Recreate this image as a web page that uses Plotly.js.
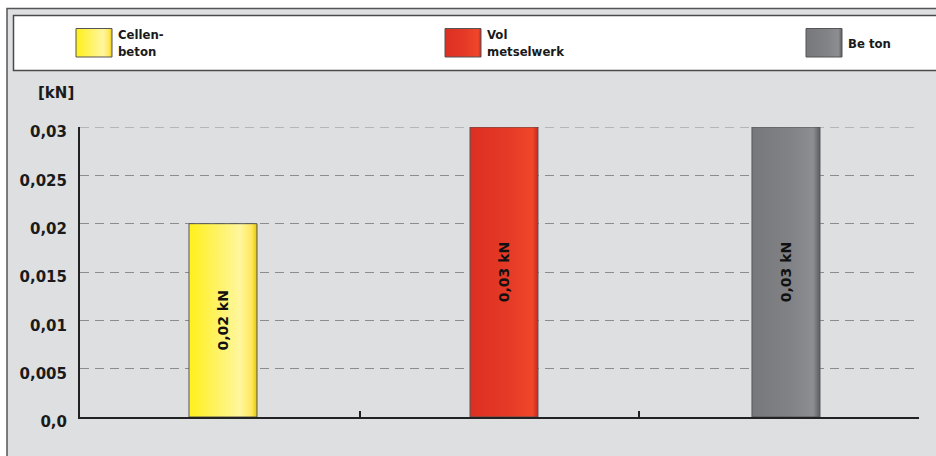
<!DOCTYPE html>
<html>
<head>
<meta charset="utf-8">
<script src="https://cdn.plot.ly/plotly-3.0.1.min.js"></script>
<style>
  html, body { margin: 0; padding: 0; background: #ffffff; }
  #chart { width: 936px; height: 456px; }
</style>
</head>
<body>
<div id="chart"></div>
<script>
// ---- data ----
const categories = ["Cellenbeton", "Vol metselwerk", "Beton"];
const legendLabels = ["Cellen-<br>beton", "Vol<br>metselwerk", "Be ton"];
const values = [0.02, 0.03, 0.03];
const barLabels = ["0,02 kN", "0,03 kN", "0,03 kN"];
const yTickVals = [0, 0.005, 0.01, 0.015, 0.02, 0.025, 0.03];
const yTickText = ["0,0", "0,005", "0,01", "0,015", "0,02", "0,025", "0,03"];
const yUnit = "[kN]";

// ---- styles ----
const baseColors = ["#fff13a", "#e2372a", "#7f8084"];
const barOffsets = [-0.1103, -0.1055, -0.0972];
const gradStops = [
  [["0%", "#fff01a"], ["45%", "#fff36a"], ["75%", "#fff69e"], ["92%", "#ffe85e"], ["100%", "#e9c800"]],
  [["0%", "#dc2f23"], ["60%", "#e63b27"], ["92%", "#f0472a"], ["100%", "#c62820"]],
  [["0%", "#77787c"], ["60%", "#828387"], ["90%", "#8d8e91"], ["100%", "#5c5d60"]]
];

const W = 936, H = 456;
const M = { l: 80, r: 17, t: 127, b: 39 };
const pw = W - M.l - M.r, ph = H - M.t - M.b;
const px = v => (v - M.l) / pw;
const py = v => (H - M.b - v) / ph;

const tickFont = { family: "DejaVu Sans", size: 15, color: "#1a1a1a", weight: "bold" };
const legFont = { family: "Liberation Sans Narrow, DejaVu Sans Condensed, sans-serif", size: 13, color: "#1a1a1a", weight: "bold" };

const trace = {
  type: "bar",
  x: categories,
  y: values,
  text: barLabels,
  textposition: "inside",
  insidetextanchor: "middle",
  textangle: -90,
  texttemplate: "%{text}",
  textfont: { family: "DejaVu Sans", size: 14, color: "#111111", weight: "bold" },
  constraintext: "none",
  width: 0.2431,
  offset: barOffsets,
  marker: { color: baseColors, line: { color: "#555555", width: 1 } },
  hoverinfo: "skip",
  showlegend: false
};

const shapes = [];
const annotations = [];
// outer frame (background panel)
shapes.push({ type: "rect", xref: "paper", yref: "paper", layer: "below",
  x0: px(7), x1: px(945), y0: py(8.5), y1: py(470),
  fillcolor: "#dedfe1", line: { color: "#555555", width: 1.5 } });
// legend box
shapes.push({ type: "rect", xref: "paper", yref: "paper", layer: "below",
  x0: px(13.5), x1: px(950), y0: py(15.5), y1: py(70.5),
  fillcolor: "#ffffff", line: { color: "#4a4a4a", width: 1.5 } });
// top gridline (Plotly drops the gridline on the range edge)
shapes.push({ type: "line", xref: "paper", yref: "y", layer: "below",
  x0: 0, x1: px(915), y0: yTickVals[yTickVals.length - 1], y1: yTickVals[yTickVals.length - 1],
  line: { color: "#8c8c8c", width: 1, dash: "9px,6px" } });
const legX = [76, 445, 806];
categories.forEach((c, i) => {
  shapes.push({ type: "rect", xref: "paper", yref: "paper", layer: "above",
    x0: px(legX[i]), x1: px(legX[i] + 36), y0: py(28.5), y1: py(57),
    fillcolor: baseColors[i], line: { color: "#555555", width: 1 } });
  annotations.push({ xref: "paper", yref: "paper", x: px(legX[i] + 40), y: py(43),
    xanchor: "left", yanchor: "middle", align: "left", showarrow: false,
    text: legendLabels[i], font: legFont });
});
annotations.push({ xref: "paper", yref: "paper", x: px(56), y: py(93),
  xanchor: "center", yanchor: "middle", showarrow: false, text: yUnit, font: tickFont });

const layout = {
  width: W, height: H,
  margin: M,
  paper_bgcolor: "#ffffff",
  plot_bgcolor: "rgba(0,0,0,0)",
  showlegend: false,
  xaxis: {
    type: "category",
    showticklabels: false,
    showgrid: false,
    zeroline: false,
    showline: true, linecolor: "#222222", linewidth: 2,
    ticks: "inside", tickson: "boundaries", ticklen: 6, tickwidth: 2, tickcolor: "#222222",
    range: [-0.5, 2.5], fixedrange: true
  },
  yaxis: {
    range: [0, 0.03],
    tickvals: yTickVals, ticktext: yTickText,
    tickfont: tickFont,
    ticks: "", ticklabelstandoff: 8, ticklabelshift: 5,
    showgrid: true, gridcolor: "#8c8c8c", gridwidth: 1, griddash: "9px,6px",
    zeroline: false,
    showline: true, linecolor: "#222222", linewidth: 2,
    fixedrange: true
  },
  shapes: shapes,
  annotations: annotations
};

Plotly.newPlot("chart", [trace], layout, { staticPlot: true, displayModeBar: false }).then(gd => {
  try {
    const svg = gd.querySelector("svg.main-svg");
    const NS = "http://www.w3.org/2000/svg";
    let defs = svg.querySelector("defs");
    if (!defs) { defs = document.createElementNS(NS, "defs"); svg.insertBefore(defs, svg.firstChild); }
    gradStops.forEach((stops, i) => {
      const g = document.createElementNS(NS, "linearGradient");
      g.setAttribute("id", "barGrad" + i);
      g.setAttribute("x1", "0"); g.setAttribute("y1", "0");
      g.setAttribute("x2", "1"); g.setAttribute("y2", "0");
      stops.forEach(s => {
        const st = document.createElementNS(NS, "stop");
        st.setAttribute("offset", s[0]); st.setAttribute("stop-color", s[1]);
        g.appendChild(st);
      });
      defs.appendChild(g);
    });
    gd.querySelectorAll(".barlayer .point path").forEach((p, i) => {
      p.style.fill = "url(#barGrad" + i + ")";
    });
    const rgbs = baseColors.map(c => {
      const tmp = document.createElement("div"); tmp.style.color = c;
      document.body.appendChild(tmp);
      const rgb = getComputedStyle(tmp).color; tmp.remove();
      return rgb;
    });
    gd.querySelectorAll(".shapelayer path").forEach(p => {
      const i = rgbs.indexOf(p.style.fill);
      if (i >= 0) p.style.fill = "url(#barGrad" + i + ")";
    });
  } catch (e) { console.log(e); }
});
</script>
</body>
</html>
